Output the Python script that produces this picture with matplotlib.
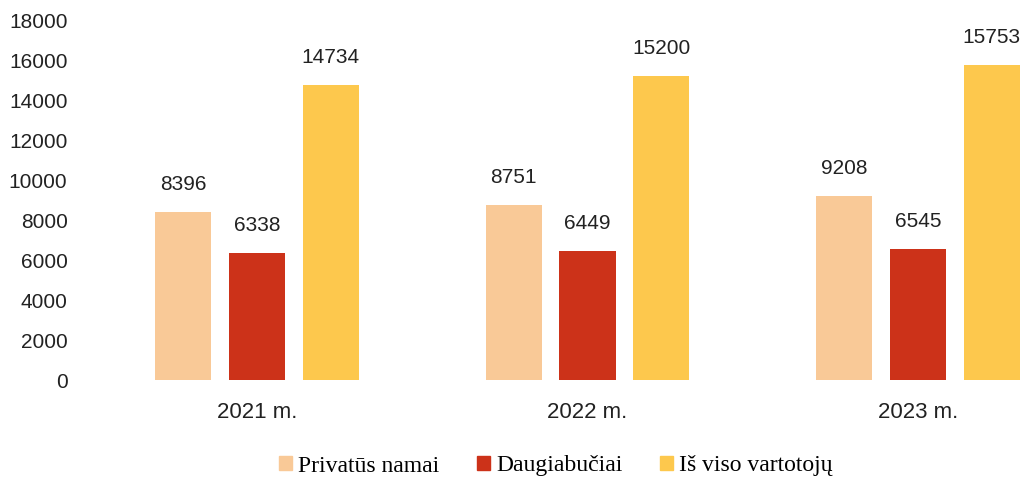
import numpy as np
import matplotlib.pyplot as plt
from matplotlib.patches import Patch

years = ["2021 m.", "2022 m.", "2023 m."]
series_names = ["Privatūs namai", "Daugiabučiai", "Iš viso vartotojų"]
privatus = [8396, 8751, 9208]
daugiabuciai = [6338, 6449, 6545]
is_viso = [14734, 15200, 15753]

colors = ["#F9C997", "#CC3219", "#FDC84D"]

fig = plt.figure(figsize=(10.25, 4.79), dpi=100)
ax = fig.add_axes([80 / 1025, (479 - 380) / 479, 945 / 1025, 360 / 479])

x = np.arange(len(years))
width = 0.17
step = 0.223
for i, (vals, col) in enumerate(zip([privatus, daugiabuciai, is_viso], colors)):
    pos = x + (i - 1) * step
    ax.bar(pos, vals, width=width, color=col)
    for px, v in zip(pos, vals):
        ax.annotate(str(v), (px, v), xytext=(0, 13), textcoords="offset points",
                    ha="center", va="bottom", fontsize=15, family="Liberation Sans",
                    color="#222222")

ax.set_xlim(-(257 - 80) / 330.5, (1025 - 257) / 330.5)
ax.set_ylim(0, 18000)
ax.set_yticks(np.arange(0, 18001, 2000))
ax.set_xticks(x)
ax.set_xticklabels(years)
ax.tick_params(length=0, labelsize=15, colors="#222222")
ax.tick_params(axis="x", pad=16, labelsize=16)
ax.tick_params(axis="y", pad=9)
for lbl in ax.get_xticklabels() + ax.get_yticklabels():
    lbl.set_family("Liberation Sans")
for s in ax.spines.values():
    s.set_visible(False)

handles = [Patch(color=c) for c in colors]
fig.legend(handles, series_names, loc="center", bbox_to_anchor=(556 / 1025, 1 - 466 / 479),
           ncol=3, frameon=False, handlelength=0.55, handleheight=0.55, handletextpad=0.25,
           columnspacing=1.6, prop={"family": "Liberation Serif", "size": 17})

fig.savefig("out.png", dpi=100)
